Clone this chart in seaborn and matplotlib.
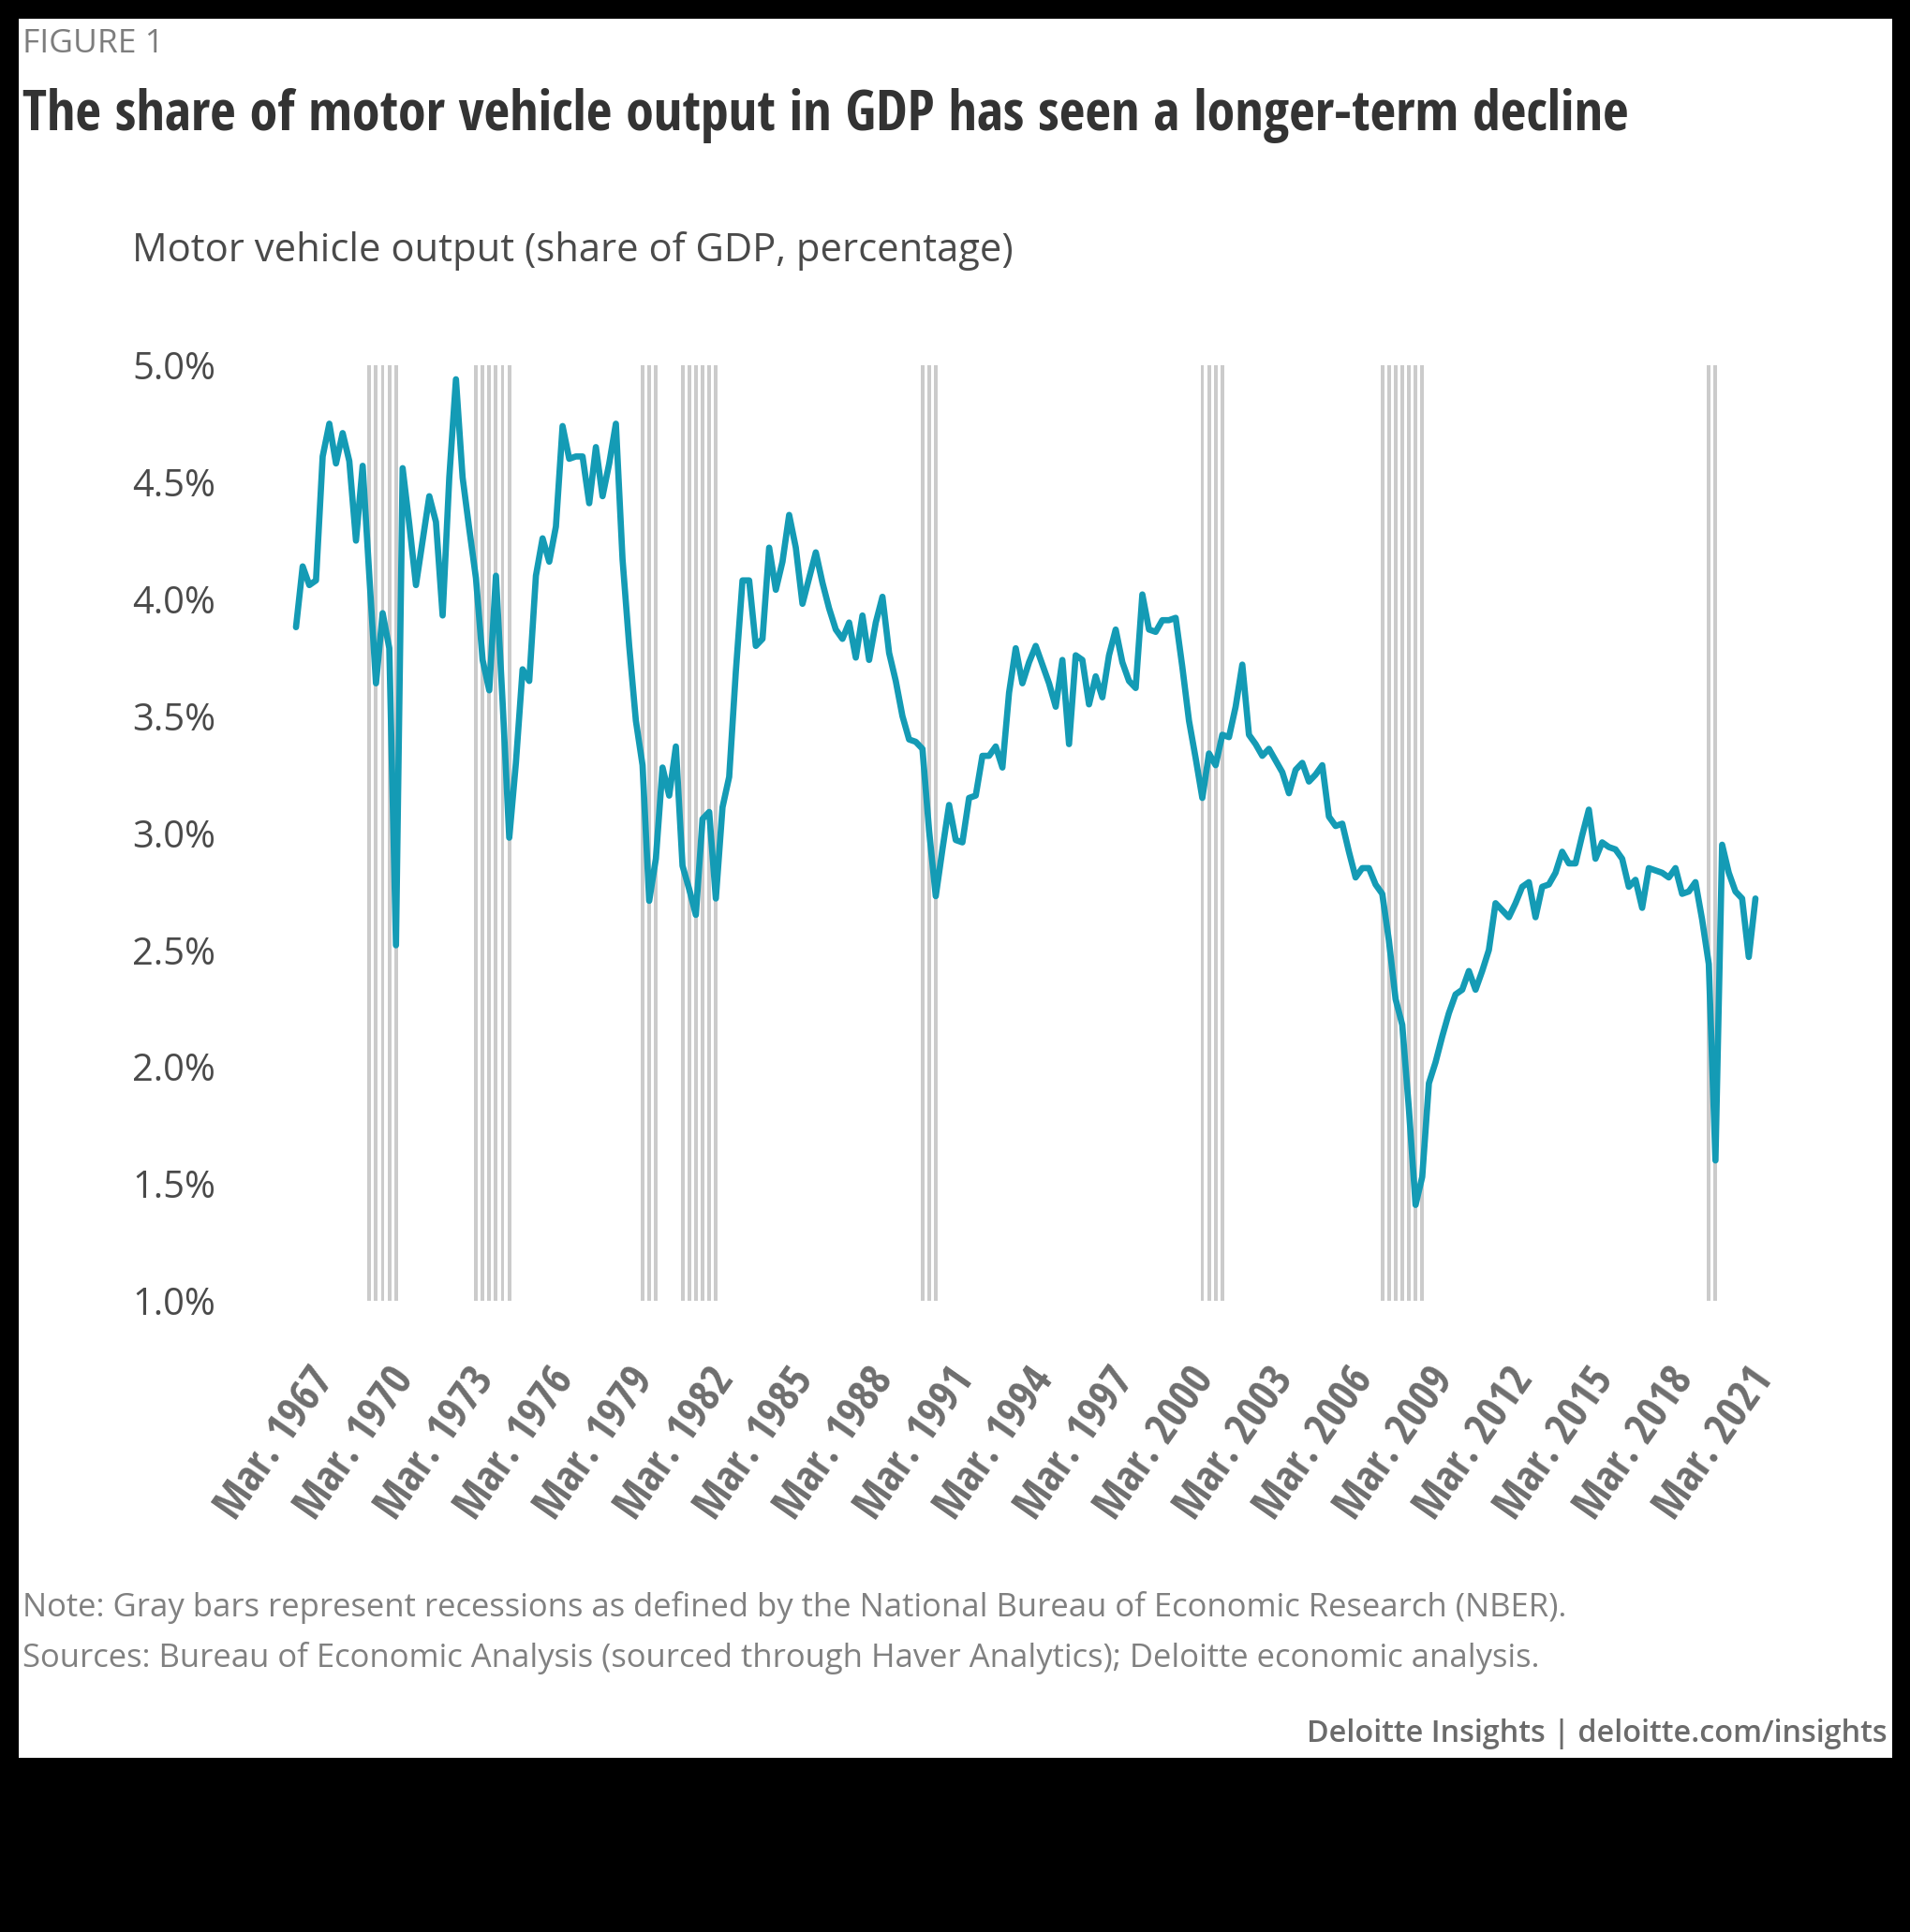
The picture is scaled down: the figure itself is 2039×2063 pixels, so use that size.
import numpy as np
import pandas as pd
import matplotlib
matplotlib.use("Agg")
import matplotlib.pyplot as plt
import matplotlib.transforms as mtransforms
from matplotlib.patches import Rectangle
import seaborn as sns

# ---------------- data ----------------
start_year = 1967  # first quarter = Mar. 1967
share_pct = [
    3.88, 4.14, 4.06, 4.08, 4.61, 4.75, 4.58, 4.71, 4.59, 4.25,
    4.57, 4.10, 3.64, 3.94, 3.79, 2.52, 4.56, 4.32, 4.06, 4.25,
    4.44, 4.33, 3.93, 4.52, 4.94, 4.52, 4.30, 4.09, 3.74, 3.61,
    4.10, 3.56, 2.98, 3.30, 3.70, 3.65, 4.10, 4.26, 4.16, 4.31,
    4.74, 4.60, 4.61, 4.61, 4.41, 4.65, 4.44, 4.58, 4.75, 4.17,
    3.80, 3.48, 3.29, 2.71, 2.89, 3.28, 3.16, 3.37, 2.86, 2.76,
    2.65, 3.06, 3.09, 2.72, 3.11, 3.24, 3.69, 4.08, 4.08, 3.80,
    3.83, 4.22, 4.04, 4.16, 4.36, 4.22, 3.98, 4.09, 4.20, 4.07,
    3.96, 3.87, 3.83, 3.90, 3.75, 3.93, 3.74, 3.90, 4.01, 3.77,
    3.65, 3.50, 3.40, 3.39, 3.36, 3.01, 2.73, 2.93, 3.12, 2.97,
    2.96, 3.15, 3.16, 3.33, 3.33, 3.37, 3.28, 3.60, 3.79, 3.64,
    3.73, 3.80, 3.72, 3.64, 3.54, 3.74, 3.38, 3.76, 3.74, 3.55,
    3.67, 3.58, 3.76, 3.87, 3.73, 3.65, 3.62, 4.02, 3.87, 3.86,
    3.91, 3.91, 3.92, 3.71, 3.48, 3.32, 3.15, 3.34, 3.29, 3.42,
    3.41, 3.54, 3.72, 3.42, 3.38, 3.33, 3.36, 3.31, 3.26, 3.17,
    3.27, 3.30, 3.22, 3.25, 3.29, 3.07, 3.03, 3.04, 2.92, 2.81,
    2.85, 2.85, 2.78, 2.74, 2.54, 2.29, 2.18, 1.82, 1.41, 1.53,
    1.93, 2.02, 2.13, 2.23, 2.31, 2.33, 2.41, 2.33, 2.41, 2.50,
    2.70, 2.67, 2.64, 2.70, 2.77, 2.79, 2.64, 2.77, 2.78, 2.83,
    2.92, 2.87, 2.87, 2.99, 3.10, 2.89, 2.96, 2.94, 2.93, 2.89,
    2.77, 2.80, 2.68, 2.85, 2.84, 2.83, 2.81, 2.85, 2.74, 2.75,
    2.79, 2.63, 2.44, 1.60, 2.95, 2.83, 2.75, 2.72, 2.47, 2.72,
]
recessions = [
    ("1969Q4", "1970Q4"), ("1973Q4", "1975Q1"), ("1980Q1", "1980Q3"),
    ("1981Q3", "1982Q4"), ("1990Q3", "1991Q1"), ("2001Q1", "2001Q4"),
    ("2007Q4", "2009Q2"), ("2020Q1", "2020Q2"),
]
tick_step_quarters = 12
y_ticks = [1.0, 1.5, 2.0, 2.5, 3.0, 3.5, 4.0, 4.5, 5.0]

fig_label = "FIGURE 1"
title = "The share of motor vehicle output in GDP has seen a longer-term decline"
subtitle = "Motor vehicle output (share of GDP, percentage)"
note = "Note: Gray bars represent recessions as defined by the National Bureau of Economic Research (NBER)."
sources = "Sources: Bureau of Economic Analysis (sourced through Haver Analytics); Deloitte economic analysis."
credit = "Deloitte Insights | deloitte.com/insights"

# ---------------- helpers ----------------
def qidx(s):
    y, q = s.split("Q")
    return (int(y) - start_year) * 4 + int(q) - 1

df = pd.DataFrame({"q": np.arange(len(share_pct)), "share": share_pct})
tick_pos = list(range(0, len(share_pct), tick_step_quarters))
tick_lab = [f"Mar. {start_year + p // 4}" for p in tick_pos]

W, H, DPI = 2040, 2063, 100
sns.set_theme(style="white")
plt.rcParams["font.family"] = ["Open Sans", "DejaVu Sans"]

REG = ["Open Sans", "DejaVu Sans"]
COND = ["Open Sans Condensed", "Liberation Sans Narrow", "DejaVu Sans Condensed", "Open Sans", "DejaVu Sans"]

fig = plt.figure(figsize=(W / DPI, H / DPI), dpi=DPI, facecolor="black")
fig.add_artist(Rectangle((20 / W, 1 - 1877 / H), 2000 / W, (1877 - 20) / H,
                         transform=fig.transFigure, facecolor="white",
                         edgecolor="none", zorder=0))

n = len(share_pct)
step = (1874 - 316) / (n - 1)
left_px = 316 - 0.5 * step
right_px = 1874 + 0.5 * step
ax = fig.add_axes([left_px / W, 1 - 1389 / H, (right_px - left_px) / W, (1389 - 390) / H])
ax.set_facecolor("white")

# recession bars (one thin bar per quarter)
for a, b in recessions:
    qs = list(range(qidx(a), qidx(b) + 1))
    ax.bar(qs, [y_ticks[-1] - y_ticks[0]] * len(qs), bottom=y_ticks[0], width=0.55,
           color="#cbcbcb", linewidth=0, zorder=1)

sns.lineplot(data=df, x="q", y="share", ax=ax, color="#149bb5", linewidth=4.8, zorder=3)

ax.set_xlim(-0.5, n - 0.5)
ax.set_ylim(y_ticks[0], y_ticks[-1])
ax.set_xlabel("")
ax.set_ylabel("")
sns.despine(ax=ax, left=True, bottom=True)
ax.tick_params(length=0)

renderer = fig.canvas.get_renderer()

def width_of(s, size, **kw):
    t = fig.text(0, 0, s, fontsize=size, **kw)
    w = t.get_window_extent(renderer=renderer).width
    t.remove()
    return w

def fitted(s, target, **kw):
    return 30 * target / width_of(s, 30, **kw)

# y ticks
ysize = fitted("5.0%", 89, family=REG)
ax.set_yticks(y_ticks)
ax.set_yticklabels([f"{v:.1f}%" for v in y_ticks], family=REG, fontsize=ysize, color="#4a4a4a")
ax.tick_params(axis="y", pad=(left_px - 230) * 72 / DPI)

# x ticks
xkw = dict(family=COND, weight="bold", fontstretch="condensed")
xsize = fitted("Mar. 1967", 186, **xkw)
ax.set_xticks(tick_pos)
ax.set_xticklabels(tick_lab, fontsize=xsize, color="#6e6e6e", rotation=55,
                   ha="right", va="top", rotation_mode="anchor", **xkw)
ax.tick_params(axis="x", pad=(1452 - 1389) * 72 / DPI)
shift = mtransforms.ScaledTranslation(12 / DPI, 0, fig.dpi_scale_trans)
for lab in ax.get_xticklabels():
    lab.set_transform(lab.get_transform() + shift)

# texts
def ftext(x_px, y_px, s, target_w, ha="left", va="center", **kw):
    size = fitted(s, target_w, **{k: v for k, v in kw.items() if k in ("family", "weight", "fontstretch")})
    fig.text(x_px / W, 1 - y_px / H, s, fontsize=size, ha=ha, va=va, **kw)

ftext(24, 47, fig_label, 151, family=REG, color="#7d7d7d")
ftext(24, 139, title, 1715, va="baseline", family=COND, weight="bold",
      fontstretch="condensed", color="#333333")
ftext(141, 268, subtitle, 938, family=REG, color="#4a4a4a")
ftext(24, 1716, note, 1651, family=REG, color="#808080")
ftext(24, 1771, sources, 1623, family=REG, color="#808080")
ftext(2015, 1852, credit, 620, ha="right", family=REG, weight="semibold", color="#6b6b6b")

fig.savefig("out.png", dpi=DPI, facecolor="black")
